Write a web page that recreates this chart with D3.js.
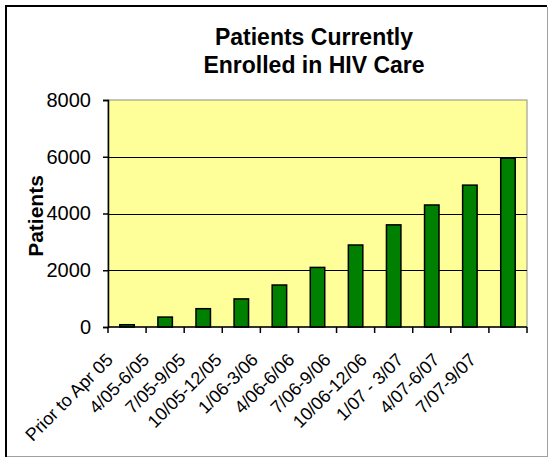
<!DOCTYPE html>
<html><head><meta charset="utf-8">
<script src="https://cdn.jsdelivr.net/npm/d3@7"></script>
<style>html,body{margin:0;padding:0;background:#fff;}svg{display:block;}</style>
</head><body>
<script>
const categories = ["Prior to Apr 05","4/05-6/05","7/05-9/05","10/05-12/05","1/06-3/06","4/06-6/06","7/06-9/06","10/06-12/06","1/07 - 3/07","4/07-6/07","7/07-9/07"];
const patients = [80, 350, 645, 990, 1480, 2100, 2890, 3600, 4300, 5000, 5950];
const yTicks = [0, 2000, 4000, 6000, 8000];
const titleLines = ["Patients Currently", "Enrolled in HIV Care"];
const yLabel = "Patients";

(function(){
const W = 548, H = 458;
const font = "'Liberation Sans', Arial, sans-serif";
const svg = d3.select("body").append("svg").attr("width", W).attr("height", H);

// chart area frame
svg.append("rect").attr("x",0).attr("y",0).attr("width",W).attr("height",H).attr("fill","#fff");
svg.append("line").attr("x1",6).attr("x2",547).attr("y1",6).attr("y2",6).attr("stroke","#000").attr("stroke-width",2);
svg.append("line").attr("x1",6).attr("x2",6).attr("y1",5).attr("y2",457).attr("stroke","#000").attr("stroke-width",2);
svg.append("line").attr("x1",7).attr("x2",548).attr("y1",456.5).attr("y2",456.5).attr("stroke","#a0a0a0").attr("stroke-width",1);
svg.append("line").attr("x1",547.5).attr("x2",547.5).attr("y1",7).attr("y2",457).attr("stroke","#a0a0a0").attr("stroke-width",1);

const pL = 108, pR = 527, pT = 100, pB = 327;
const x = d3.scaleBand().domain(categories).range([pL, pR]).paddingInner(0.62).paddingOuter(0.31);
const y = d3.scaleLinear().domain([0, 8000]).range([pB, pT]);

// plot area
svg.append("rect").attr("x",pL).attr("y",pT).attr("width",pR-pL).attr("height",pB-pT)
  .attr("fill","#FFFF99").attr("stroke","#8c8c8c").attr("stroke-width",1);

// gridlines
svg.append("g").selectAll("line").data(yTicks.filter(d=>d>0 && d<8000)).join("line")
  .attr("x1",pL).attr("x2",pR).attr("y1",d=>Math.round(y(d))+0.5).attr("y2",d=>Math.round(y(d))+0.5)
  .attr("stroke","#000").attr("stroke-width",1.2);

// bars
svg.append("g").selectAll("rect").data(categories).join("rect")
  .attr("x",(d)=>x(d)).attr("width",x.bandwidth())
  .attr("y",(d,i)=>y(patients[i])).attr("height",(d,i)=>pB - y(patients[i]))
  .attr("fill","#008000").attr("stroke","#000").attr("stroke-width",1.5);

// y axis
const yAxis = svg.append("g").attr("transform",`translate(${pL},0)`)
  .call(d3.axisLeft(y).tickValues(yTicks).tickSize(5).tickPadding(12).tickFormat(d3.format("d")));
yAxis.select(".domain").attr("stroke","#000").attr("stroke-width",1.5);
yAxis.selectAll(".tick line").attr("stroke","#000").attr("stroke-width",1.5);
yAxis.selectAll("text").attr("font-family",font).attr("font-size","20px").attr("fill","#000");

// x axis: ticks at band boundaries
const boundaries = categories.map(c => x(c) - x.step()*x.paddingInner()/2).concat([pR]);
boundaries[0] = pL;
const xg = svg.append("g");
xg.append("line").attr("x1",pL).attr("x2",pR).attr("y1",pB).attr("y2",pB).attr("stroke","#000").attr("stroke-width",1.5);
xg.selectAll("line.t").data(boundaries).join("line").attr("class","t")
  .attr("x1",d=>d).attr("x2",d=>d).attr("y1",pB).attr("y2",pB+6).attr("stroke","#000").attr("stroke-width",1.5);

// x labels (rotated)
const labelPos = d3.scalePoint().domain(categories).range([114, 477]);
xg.selectAll("text").data(categories).join("text")
  .attr("transform",d=>`translate(${labelPos(d)},${pB+34}) rotate(-45)`)
  .attr("text-anchor","end")
  .attr("font-family",font).attr("font-size","18px").attr("fill","#000")
  .text(d=>d);

// y label
svg.append("text").attr("transform",`translate(43,216) rotate(-90)`).attr("text-anchor","middle")
  .attr("font-family",font).attr("font-weight","bold").attr("font-size","21px").attr("fill","#000").text(yLabel);

// title
svg.append("g").selectAll("text").data(titleLines).join("text")
  .attr("x",314).attr("y",(d,i)=>45 + i*28).attr("text-anchor","middle")
  .attr("font-family",font).attr("font-weight","bold").attr("font-size","23px").attr("fill","#000")
  .text(d=>d);
})();
</script>
</body></html>
